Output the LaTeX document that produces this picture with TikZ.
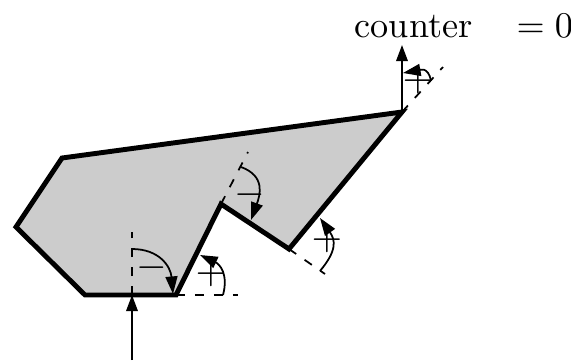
\documentclass[tikz,border=0pt]{standalone}
\usepackage{amsmath}
\usetikzlibrary{positioning,arrows.meta,calc}
\tikzset{
  outline/.style={line width=1.4pt,fill=black!20,line join=miter},
  ray/.style={line width=0.5pt,-{Triangle[length=4.6pt,width=3.3pt]}},
  extension/.style={line width=0.5pt,dash pattern=on 2.5pt off 2.9pt},
  turn/.style={line width=0.5pt,-{Triangle[length=5pt,width=3.4pt]}},
  sign/.style={scale=1.12},
}
\begin{document}
\begin{tikzpicture}
  \useasboundingbox (0,0) rectangle (5.71,3.6);
  % polygon corners
  \coordinate (a) at (0.62,2.02);
  \coordinate (b) at (4.02,2.48);
  \coordinate (c) at (2.89,1.11);
  \coordinate (d) at (2.21,1.56);
  \coordinate (e) at (1.76,0.65);
  \coordinate (f) at (0.85,0.65);
  \coordinate (g) at (0.16,1.33);
  \draw[outline](a)--(b)--(c)--(d)--(e)--(f)--(g)--cycle;
  % rays in and out
  \coordinate (entry) at (1.32,0);
  \coordinate (hit) at (1.32,0.65);
  \coordinate (exit) at (4.02,3.15);
  \draw[ray](entry)--(hit);
  \draw[ray](b)--(exit);
  % dashed extensions
  \coordinate (hitend) at (1.32,1.28);
  \coordinate (eend) at (2.38,0.65);
  \coordinate (dend) at (2.48,2.08);
  \coordinate (cend) at (3.25,0.86);
  \coordinate (bend) at (4.43,2.93);
  \draw[extension](hit)--(hitend);
  \draw[extension](e)--(eend);
  \draw[extension](d)--(dend);
  \draw[extension](c)--(cend);
  \draw[extension](b)--(bend);
  % angle arcs
  \coordinate (s1) at (1.32,1.11);
  \coordinate (t1) at (1.73,0.66);
  \coordinate (s2) at (2.23,0.65);
  \coordinate (t2) at (2.00,1.05);
  \coordinate (s3) at (2.41,1.93);
  \coordinate (t3) at (2.51,1.40);
  \coordinate (s4) at (3.20,0.89);
  \coordinate (t4) at (3.20,1.42);
  \coordinate (s5) at (4.31,2.79);
  \coordinate (t5) at (4.03,2.87);
  \draw[turn](s1) to[out=0,in=95,looseness=1.15] (t1);
  \draw[turn](s2) to[out=75,in=-25,looseness=1.2] (t2);
  \draw[turn](s3) to[out=-20,in=70,looseness=1.25] (t3);
  \draw[turn](s4) to[out=50,in=-55,looseness=1.3] (t4);
  \draw[turn](s5) to[out=100,in=10,looseness=1.4] (t5);
  % signs
  \node[sign] (m1) at (1.52,0.92){$-$};
  \node[sign] (p1) at (2.11,0.86){$+$};
  \node[sign] (m2) at (2.50,1.65){$-$};
  \node[sign] (p2) at (3.27,1.20){$+$};
  \node[sign] (p3) at (4.18,2.79){$+$};
  \node[anchor=base west,inner sep=0pt,scale=1.03] (count) at (3.54,3.23){counter\hspace{12.2pt}$=0$};
\end{tikzpicture}
\end{document}
